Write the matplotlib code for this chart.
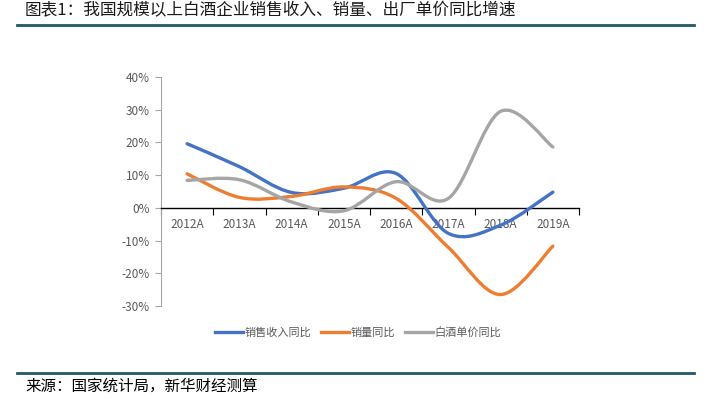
#!/usr/bin/env python3
import matplotlib
matplotlib.use("Agg")
import matplotlib.pyplot as plt
import numpy as np
from matplotlib.path import Path
from matplotlib.patches import PathPatch
from matplotlib.lines import Line2D
from matplotlib.ticker import FuncFormatter

plt.rcParams['font.family'] = ['Noto Sans CJK SC', 'DejaVu Sans']

years = ["2012A", "2013A", "2014A", "2015A", "2016A", "2017A", "2018A", "2019A"]
revenue_yoy = [19.6, 12.6, 4.7, 6.0, 10.5, -7.8, -5.3, 4.8]
volume_yoy = [10.4, 3.2, 3.5, 6.4, 2.9, -12.1, -26.5, -11.7]
price_yoy = [8.4, 8.6, 1.8, -0.9, 8.0, 2.9, 29.5, 18.6]

series_names = ["销售收入同比", "销量同比", "白酒单价同比"]
series_colors = ["#4472C4", "#ED7D31", "#A5A5A5"]

title = "图表1：我国规模以上白酒企业销售收入、销量、出厂单价同比增速"
source = "来源：国家统计局，新华财经测算"

TEXT_GRAY = "#595959"
TEAL = "#215A66"


def smooth_path(xs, ys):
    # excel style smoothed line -> cubic bezier segments
    pts = np.column_stack([xs, ys]).astype(float)
    n = len(pts)
    verts = [pts[0]]
    codes = [Path.MOVETO]
    for i in range(n - 1):
        p0 = pts[i - 1] if i > 0 else pts[i]
        p1 = pts[i]
        p2 = pts[i + 1]
        p3 = pts[i + 2] if i + 2 < n else pts[i + 1]
        c1 = p1 + (p2 - p0) / 6.0
        c2 = p2 - (p3 - p1) / 6.0
        verts += [c1, c2, p2]
        codes += [Path.CURVE4] * 3
    return Path(verts, codes)


fig = plt.figure(figsize=(7.15, 3.99), dpi=100)
ax = fig.add_axes([161 / 715, 1 - 306 / 399, (579 - 161) / 715, (306 - 77) / 399])

x = np.arange(len(years))
for vals, color in zip([revenue_yoy, volume_yoy, price_yoy], series_colors):
    p = smooth_path(x, vals)
    ax.add_patch(PathPatch(p, fill=False, edgecolor=color, lw=2.4, capstyle='round', zorder=3))

ax.set_xlim(-0.5, len(years) - 0.5)
ax.set_ylim(-30, 40)
ax.set_yticks(np.arange(-30, 41, 10))
ax.yaxis.set_major_formatter(FuncFormatter(lambda v, pos: "{:.0f}%".format(v)))

for s in ["top", "right"]:
    ax.spines[s].set_visible(False)
ax.spines["left"].set_color("#A6A6A6")
ax.spines["left"].set_linewidth(0.8)
ax.spines["bottom"].set_position(("data", 0))
ax.spines["bottom"].set_color("black")
ax.spines["bottom"].set_linewidth(1.0)

# boundaries as major ticks, category names on minor ticks
ax.set_xticks(np.arange(-0.5, len(years), 1.0))
ax.set_xticklabels([])
ax.set_xticks(x, minor=True)
ax.set_xticklabels(years, minor=True)
ax.tick_params(axis="x", which="major", direction="out", length=5, width=0.8, color="black")
ax.tick_params(axis="x", which="minor", length=0, pad=7, labelsize=8.5, labelcolor=TEXT_GRAY)
ax.tick_params(axis="y", direction="out", length=4, width=0.8, color="#A6A6A6",
               labelsize=8.5, labelcolor=TEXT_GRAY, pad=4)

handles = [Line2D([0], [0], color=c, lw=2.4) for c in series_colors]
fig.legend(handles, series_names, loc="center", bbox_to_anchor=(358 / 715, 1 - 332 / 399),
           ncol=3, frameon=False, fontsize=8, handlelength=2.5, handletextpad=0.15,
           columnspacing=0.9, labelcolor=TEXT_GRAY)

fig.text(25 / 715, 1 - 11 / 399, title, fontsize=12, color="#1a1a1a", ha="left", va="center")
fig.add_artist(Line2D([17 / 715, 694 / 715], [1 - 24.5 / 399] * 2, color=TEAL, lw=2.0))
fig.add_artist(Line2D([17 / 715, 694 / 715], [1 - 372.5 / 399] * 2, color=TEAL, lw=2.0))
fig.text(25 / 715, 1 - 386 / 399, source, fontsize=11.2, color="black", ha="left", va="center")

fig.savefig("out.png", dpi=100, facecolor="white")
plt.close()
